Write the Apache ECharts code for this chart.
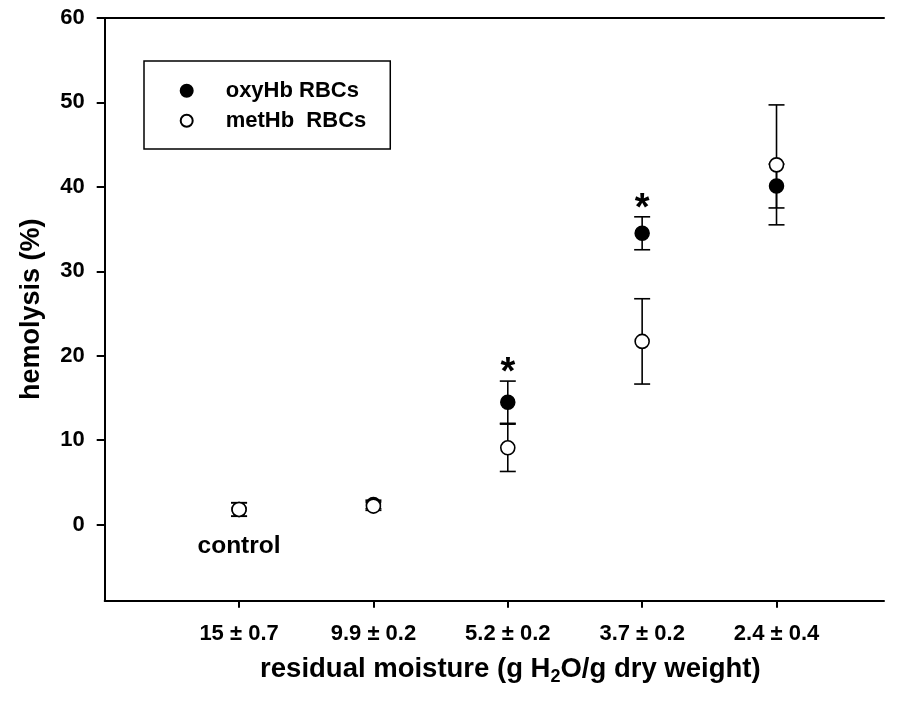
<!DOCTYPE html>
<html>
<head>
<meta charset="utf-8">
<script src="https://cdn.jsdelivr.net/npm/echarts@6/dist/echarts.min.js"></script>
<style>
html,body{margin:0;padding:0;background:#fff;}
#chart{width:902px;height:702px;}
</style>
</head>
<body>
<div id="chart"></div>
<script>
// ---- data ----
var categories = ['15 \u00b1 0.7', '9.9 \u00b1 0.2', '5.2 \u00b1 0.2', '3.7 \u00b1 0.2', '2.4 \u00b1 0.4'];
var categoryPos = [1, 2, 3, 4, 5];
var oxyMean = [1.8, 2.4, 14.5, 34.5, 40.1];
var oxyErr  = [0.8, 0.5, 2.5, 1.95, 2.6];
var metMean = [1.8, 2.2, 9.1, 21.7, 42.6];
var metErr  = [0.8, 0.5, 2.8, 5.05, 7.1];
var starIndex = [2, 3];            // categories marked significant
var yTicks = [0, 10, 20, 30, 40, 50, 60];
var seriesNames = ['oxyHb RBCs', 'metHb  RBCs'];

var FONT = '"Liberation Sans", Arial, sans-serif';

function pts(means) {
  return categoryPos.map(function (x, i) { return [x, means[i]]; });
}
function errData(means, errs) {
  return categoryPos.map(function (x, i) { return [x, means[i] - errs[i], means[i] + errs[i]]; });
}
function errRender(params, api) {
  var x = api.value(0);
  var lo = api.coord([x, api.value(1)]);
  var hi = api.coord([x, api.value(2)]);
  var hw = 8;
  var st = { stroke: '#000', lineWidth: 1.6 };
  return {
    type: 'group',
    children: [
      { type: 'line', shape: { x1: lo[0], y1: lo[1], x2: hi[0], y2: hi[1] }, style: st },
      { type: 'line', shape: { x1: lo[0] - hw, y1: lo[1], x2: lo[0] + hw, y2: lo[1] }, style: st },
      { type: 'line', shape: { x1: hi[0] - hw, y1: hi[1], x2: hi[0] + hw, y2: hi[1] }, style: st }
    ]
  };
}
var starData = starIndex.map(function (i) { return [categoryPos[i], oxyMean[i] + oxyErr[i]]; });

var chart = echarts.init(document.getElementById('chart'));
chart.setOption({
  backgroundColor: '#fff',
  animation: false,
  textStyle: { fontFamily: FONT },
  grid: { left: 104.7, right: 18, top: 17.9, bottom: 101.3, containLabel: false },
  legend: {
    data: seriesNames,
    orient: 'vertical',
    left: 144,
    top: 61,
    backgroundColor: '#fff',
    borderColor: '#000',
    borderWidth: 1.5,
    borderRadius: 0,
    padding: [18.7, 24, 17.3, 35.7],
    itemWidth: 12,
    itemHeight: 12,
    itemGap: 8,
    icon: 'circle',
    selectedMode: false,
    textStyle: { fontSize: 22, fontWeight: 'bold', color: '#000', fontFamily: FONT, padding: [0, 0, 0, 28] }
  },
  xAxis: [{
    type: 'value',
    min: 0, max: 5.8,
    splitLine: { show: false },
    axisLine: { show: true, onZero: false, lineStyle: { color: '#000', width: 2 } },
    axisTick: { show: true, inside: false, length: 7, customValues: categoryPos, lineStyle: { color: '#000', width: 2 } },
    axisLabel: {
      show: true, margin: 22, customValues: categoryPos,
      fontSize: 22, fontWeight: 'bold', color: '#000', fontFamily: FONT,
      formatter: function (v) { var i = categoryPos.indexOf(Math.round(v)); return i >= 0 ? categories[i] : ''; }
    },
    name: '{a|residual moisture (g H}{s|2}{a|O/g dry weight)}',
    nameLocation: 'middle',
    nameGap: 53,
    nameTextStyle: {
      padding: [0, 0, 0, 32],
      rich: {
        a: { fontSize: 27.5, fontWeight: 'bold', color: '#000', fontFamily: FONT },
        s: { fontSize: 18, fontWeight: 'bold', color: '#000', fontFamily: FONT, padding: [14, 0, 0, 0] }
      }
    }
  }, {
    type: 'value',
    position: 'top',
    min: 0, max: 5.8,
    splitLine: { show: false },
    axisLine: { show: true, onZero: false, lineStyle: { color: '#000', width: 2 } },
    axisTick: { show: false },
    axisLabel: { show: false }
  }],
  yAxis: {
    type: 'value',
    min: -9, max: 60,
    splitLine: { show: false },
    axisLine: { show: true, onZero: false, lineStyle: { color: '#000', width: 2 } },
    axisTick: { show: true, inside: false, length: 8, customValues: yTicks, lineStyle: { color: '#000', width: 2 } },
    axisLabel: { show: true, margin: 20, customValues: yTicks, fontSize: 22, fontWeight: 'bold', color: '#000', fontFamily: FONT },
    name: 'hemolysis (%)',
    nameLocation: 'middle',
    nameRotate: 90,
    nameGap: 60,
    nameTextStyle: { fontSize: 27, fontWeight: 'bold', color: '#000', fontFamily: FONT }
  },
  series: [
    {
      type: 'custom', name: 'oxyErr', renderItem: errRender, data: errData(oxyMean, oxyErr),
      encode: { x: 0, y: [1, 2] }, z: 1, silent: true
    },
    {
      type: 'custom', name: 'metErr', renderItem: errRender, data: errData(metMean, metErr),
      encode: { x: 0, y: [1, 2] }, z: 1, silent: true
    },
    {
      type: 'scatter', name: seriesNames[0], data: pts(oxyMean), symbol: 'circle', symbolSize: 14,
      itemStyle: { color: '#000', borderColor: '#000', borderWidth: 1.5, opacity: 1 }, z: 3
    },
    {
      type: 'scatter', name: seriesNames[1], data: pts(metMean), symbol: 'circle', symbolSize: 14,
      itemStyle: { color: '#fff', borderColor: '#000', borderWidth: 1.6, opacity: 1 }, z: 4
    },
    {
      type: 'scatter', name: 'stars', data: starData, symbolSize: 1, silent: true, z: 5,
      itemStyle: { opacity: 1, color: 'rgba(0,0,0,0)' },
      label: { show: true, position: 'top', distance: 0, offset: [0, 12], formatter: '*', fontSize: 38, fontWeight: 'bold', color: '#000', opacity: 1, fontFamily: FONT }
    },
    {
      type: 'scatter', name: 'control', data: [[categoryPos[0], -2.5]], symbolSize: 1, silent: true, z: 5,
      itemStyle: { opacity: 1, color: 'rgba(0,0,0,0)' },
      label: { show: true, position: 'inside', formatter: 'control', fontSize: 24.5, fontWeight: 'bold', color: '#000', opacity: 1, fontFamily: FONT }
    }
  ]
});
</script>
</body>
</html>
